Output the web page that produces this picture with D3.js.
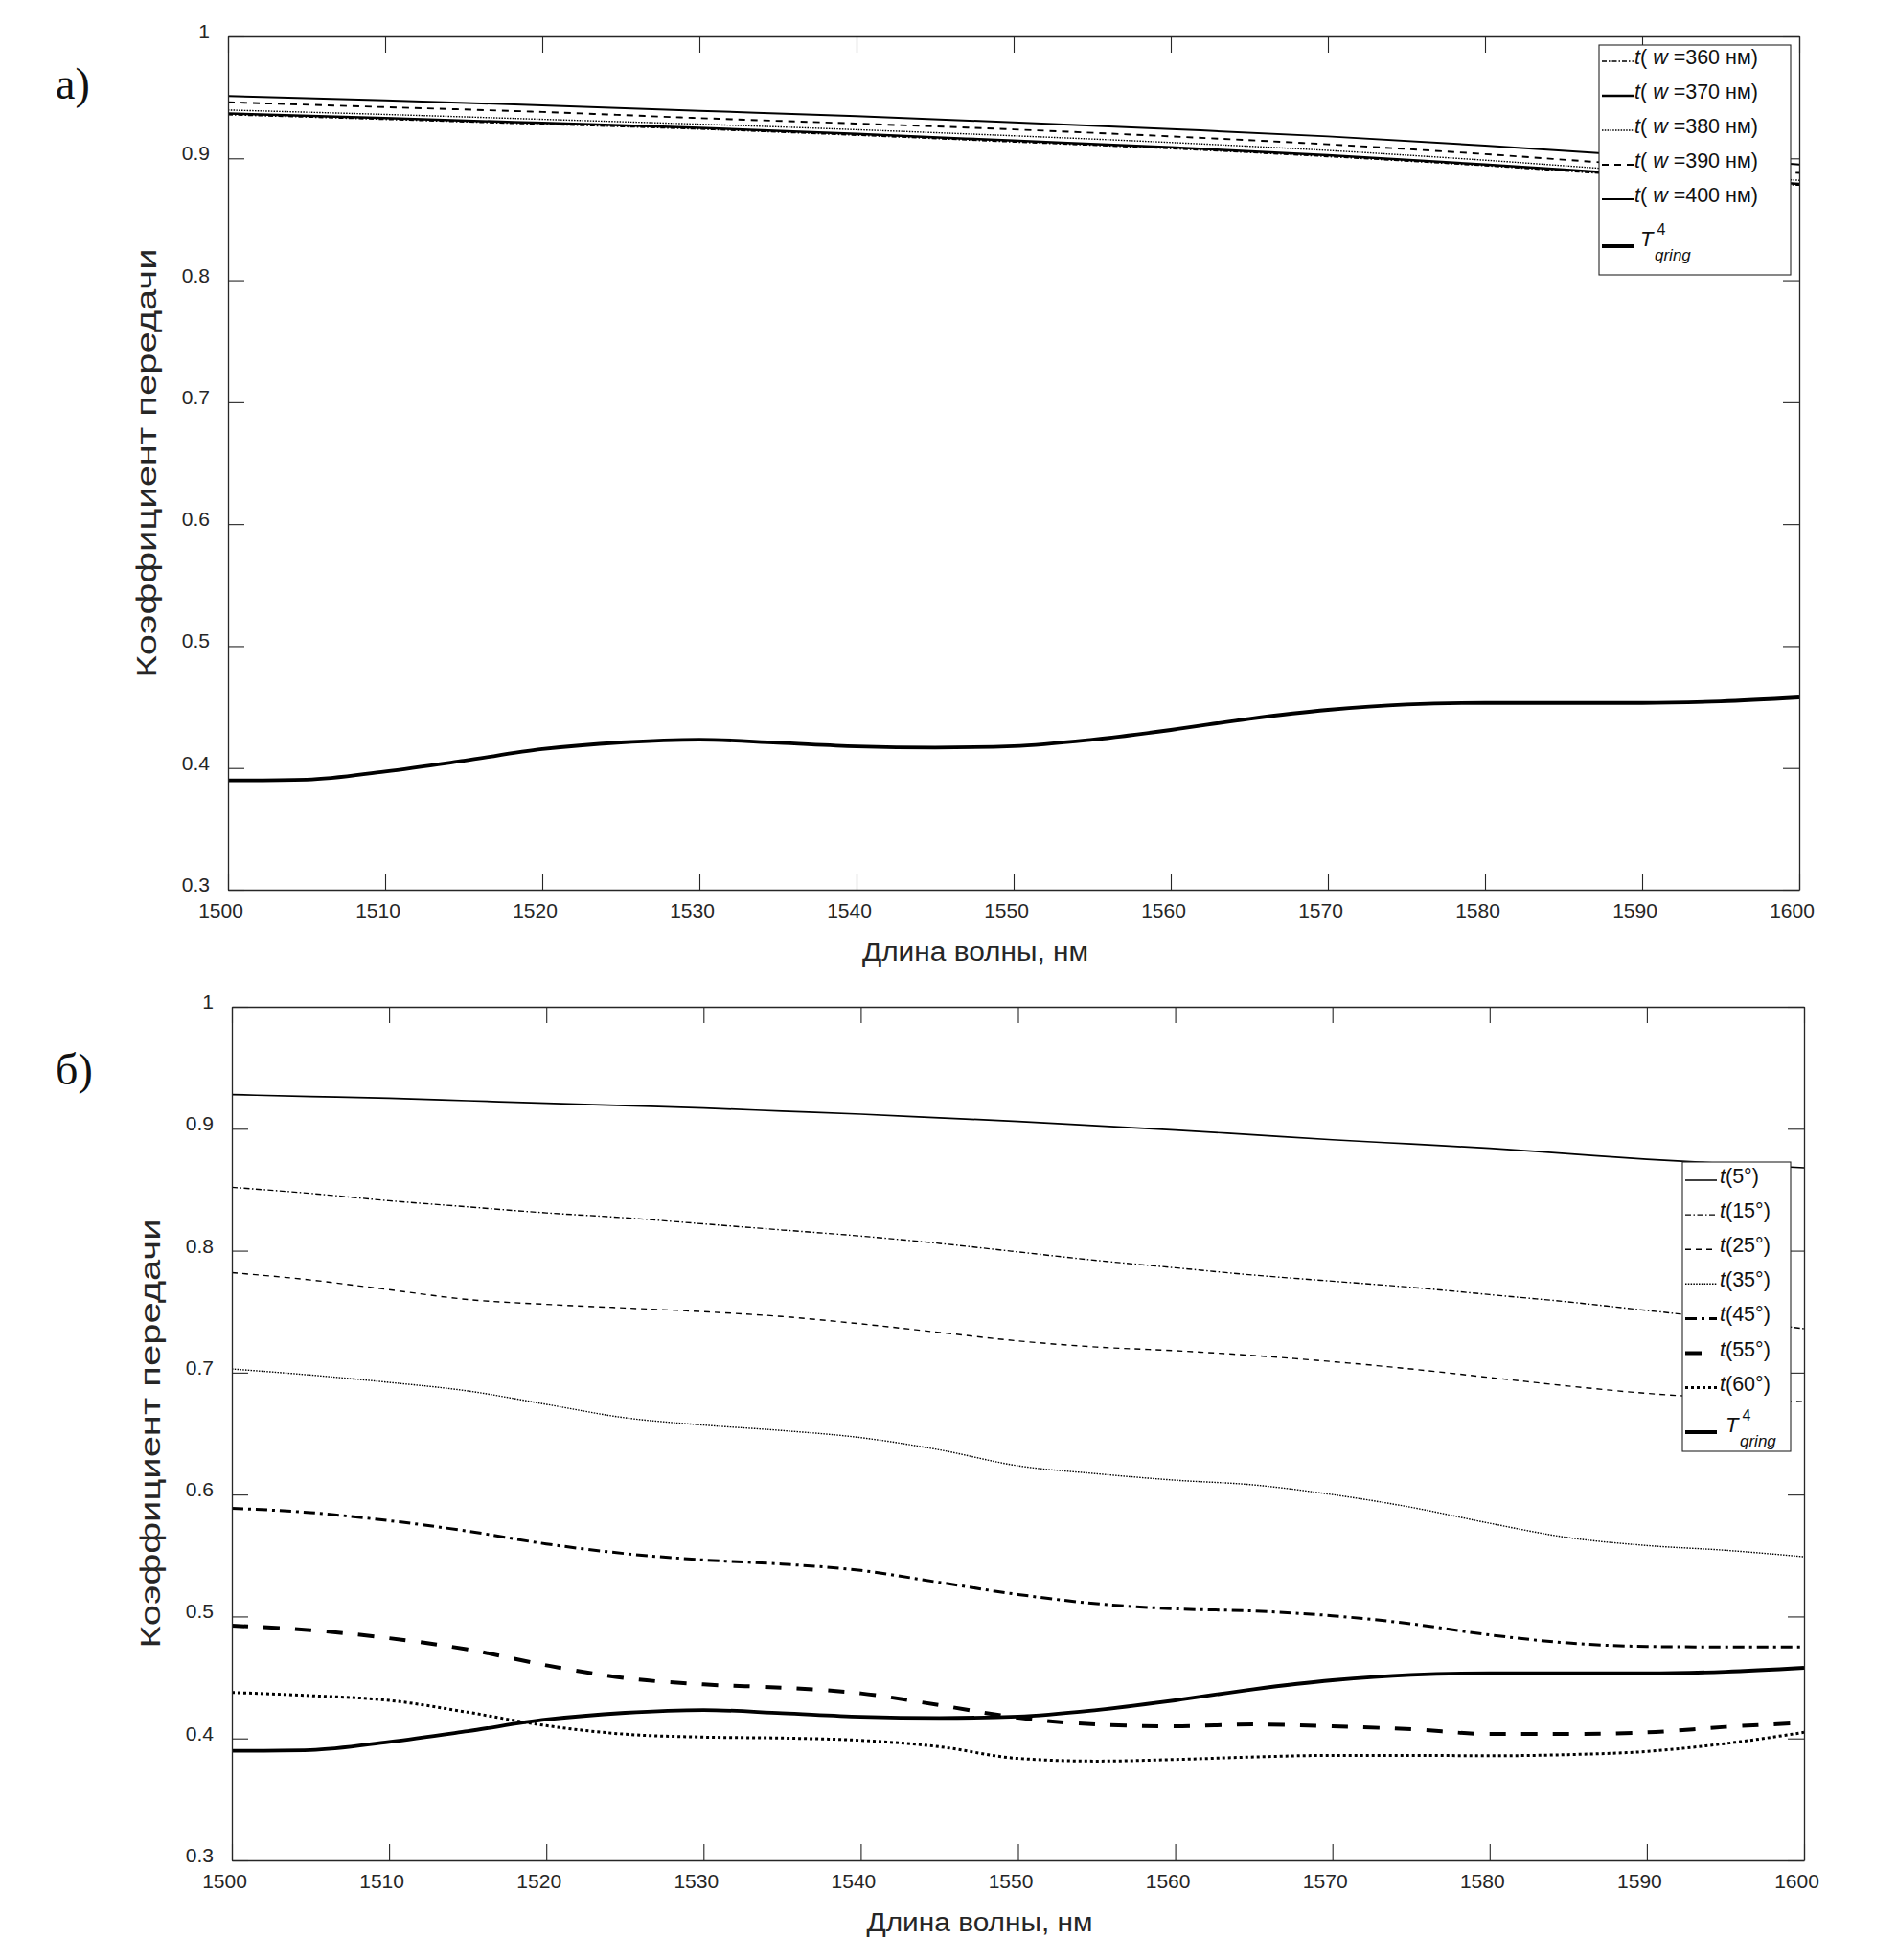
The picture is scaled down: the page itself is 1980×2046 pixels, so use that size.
<!DOCTYPE html>
<html>
<head>
<meta charset="utf-8">
<script src="https://cdn.jsdelivr.net/npm/d3@7"></script>
<style>
  body { margin: 0; background: #fff; }
  text { font-family: Arial, "Liberation Sans", sans-serif; }
</style>
</head>
<body>
<svg id="chart" width="1980" height="2046"></svg>
<script>
// ---- data ----
var wavelengths5 = [1500, 1505, 1510, 1515, 1520, 1525, 1530, 1535, 1540, 1545, 1550,
                    1555, 1560, 1565, 1570, 1575, 1580, 1585, 1590, 1595, 1600];
var wavelengths10 = [1500, 1510, 1520, 1530, 1540, 1550, 1560, 1570, 1580, 1590, 1600];

var xTicks = [1500, 1510, 1520, 1530, 1540, 1550, 1560, 1570, 1580, 1590, 1600];
var yTicks = [0.3, 0.4, 0.5, 0.6, 0.7, 0.8, 0.9, 1];

// T^4 qring (both panels), 5 nm step
var tQring = [0.3898, 0.3905, 0.3972, 0.406, 0.4155, 0.421, 0.4233, 0.4207, 0.4178, 0.4168, 0.418,
              0.4233, 0.4312, 0.4404, 0.4477, 0.4521, 0.4534, 0.4534, 0.4534, 0.4547, 0.4579];

// panel a), 10 nm step
var tW360 = [0.9358, 0.932, 0.928, 0.924, 0.919, 0.9135, 0.908, 0.9015, 0.894, 0.8855, 0.878];
var tW370 = [0.9368, 0.933, 0.929, 0.925, 0.920, 0.9145, 0.909, 0.9025, 0.895, 0.8865, 0.879];
var tW380 = [0.9396, 0.936, 0.932, 0.928, 0.9235, 0.9185, 0.913, 0.9065, 0.8985, 0.8895, 0.882];
var tW390 = [0.946, 0.942, 0.938, 0.933, 0.9285, 0.9237, 0.918, 0.9115, 0.9035, 0.8945, 0.888];
var tW400 = [0.951, 0.9475, 0.9435, 0.939, 0.9345, 0.9295, 0.924, 0.918, 0.9105, 0.902, 0.895];

// panel б), 5 nm step
var tA5  = [0.928, 0.9265, 0.925, 0.923, 0.921, 0.919, 0.917, 0.9145, 0.912, 0.909, 0.906,
            0.9025, 0.899, 0.895, 0.891, 0.8875, 0.884, 0.8795, 0.875, 0.8715, 0.868];
var tA15 = [0.852, 0.847, 0.841, 0.836, 0.831, 0.827, 0.822, 0.817, 0.812, 0.806, 0.799,
            0.792, 0.786, 0.780, 0.775, 0.770, 0.764, 0.758, 0.751, 0.744, 0.736];
var tA25 = [0.782, 0.776, 0.768, 0.760, 0.756, 0.753, 0.750, 0.746, 0.740, 0.733, 0.726,
            0.721, 0.718, 0.714, 0.709, 0.703, 0.696, 0.689, 0.683, 0.679, 0.676];
var tA35 = [0.703, 0.698, 0.692, 0.685, 0.674, 0.663, 0.657, 0.6525, 0.6467, 0.6367, 0.6236,
            0.6171, 0.6118, 0.6079, 0.600, 0.5896, 0.5765, 0.5647, 0.5582, 0.5543, 0.549];
var tA45 = [0.5888, 0.5852, 0.5786, 0.570, 0.5595, 0.5516, 0.5464, 0.543, 0.5378, 0.528, 0.5181,
            0.5105, 0.5063, 0.5045, 0.5006, 0.494, 0.4849, 0.4783, 0.4754, 0.475, 0.475];
var tA55 = [0.4925, 0.4888, 0.4822, 0.473, 0.46, 0.4495, 0.4443, 0.4416, 0.437, 0.4273, 0.417,
            0.4115, 0.41, 0.4115, 0.41, 0.4076, 0.4037, 0.4037, 0.405, 0.4095, 0.4128];
var tA60 = [0.4377, 0.4351, 0.4312, 0.4215, 0.4105, 0.4035, 0.4011, 0.4003, 0.3984, 0.3932, 0.3836,
            0.3814, 0.3827, 0.3848, 0.3861, 0.3861, 0.3858, 0.3867, 0.3893, 0.3958, 0.405];

var labelsW = ['360', '370', '380', '390', '400'];
var labelsAngle = ['5', '15', '25', '35', '45', '55', '60'];
var panelLabels = ['а)', 'б)'];
var xTitle = 'Длина волны, нм';
var yTitle = 'Коэффициент передачи';

// ---- drawing ----
var svg = d3.select('#chart');
svg.append('rect').attr('width', 1980).attr('height', 2046).attr('fill', '#fff');

var axisColor = '#262626';

function drawPanel(p, idx) {
    var x = d3.scaleLinear().domain([1500, 1600]).range([p.left, p.right]);
    var y = d3.scaleLinear().domain([0.3, 1]).range([p.bottom, p.top]);
    var g = svg.append('g');

    var clipId = 'clip' + idx;
    g.append('clipPath').attr('id', clipId).append('rect')
        .attr('x', p.left).attr('y', p.top)
        .attr('width', p.right - p.left).attr('height', p.bottom - p.top);

    var lines = g.append('g').attr('clip-path', 'url(#' + clipId + ')');
    p.series.forEach(function (s) {
        var line = d3.line()
            .x(function (d, i) { return x(s.wl[i]); })
            .y(function (d) { return y(d); })
            .curve(d3.curveMonotoneX);
        lines.append('path').datum(s.values)
            .attr('d', line)
            .attr('fill', 'none')
            .attr('stroke', '#000')
            .attr('stroke-width', s.width)
            .attr('stroke-dasharray', s.dash || null);
    });

    var styleAxis = function (sel) {
        sel.attr('font-family', null).attr('font-size', null);
        sel.select('.domain').attr('stroke', axisColor).attr('stroke-width', 1.3);
        sel.selectAll('.tick line').attr('stroke', axisColor).attr('stroke-width', 1.1);
        sel.selectAll('.tick text').attr('fill', axisColor).style('font-size', '21px');
    };

    g.append('g').attr('transform', 'translate(0,' + p.bottom + ')')
        .call(d3.axisBottom(x).tickValues(xTicks).tickSizeInner(-17).tickSizeOuter(0).tickPadding(14)
            .tickFormat(d3.format('d')))
        .call(styleAxis)
        .selectAll('.tick text').attr('dx', -8);
    g.append('g').attr('transform', 'translate(0,' + p.top + ')')
        .call(d3.axisTop(x).tickValues(xTicks).tickSizeInner(-17).tickSizeOuter(0).tickFormat(''))
        .call(styleAxis);
    g.append('g').attr('transform', 'translate(' + p.left + ',0)')
        .call(d3.axisLeft(y).tickValues(yTicks).tickSizeInner(-17).tickSizeOuter(0).tickPadding(19)
            .tickFormat(d3.format('~g')))
        .call(styleAxis)
        .selectAll('.tick text').attr('dy', '0.07em');
    g.append('g').attr('transform', 'translate(' + p.right + ',0)')
        .call(d3.axisRight(y).tickValues(yTicks).tickSizeInner(-17).tickSizeOuter(0).tickFormat(''))
        .call(styleAxis);

    // titles
    var cx = (p.left + p.right) / 2 - 40;
    g.append('text').attr('x', cx).attr('y', p.bottom + 74)
        .attr('text-anchor', 'middle').attr('fill', axisColor)
        .style('font-size', '27px')
        .attr('textLength', 236).attr('lengthAdjust', 'spacingAndGlyphs')
        .text(xTitle);
    var cy = (p.top + p.bottom) / 2;
    g.append('text')
        .attr('transform', 'translate(' + (p.left - 75) + ',' + cy + ') rotate(-90)')
        .attr('text-anchor', 'middle').attr('fill', axisColor)
        .style('font-size', '29px')
        .attr('textLength', 448).attr('lengthAdjust', 'spacingAndGlyphs')
        .text(yTitle);

    g.append('text').attr('x', 58).attr('y', p.labelY)
        .style('font-family', '"Liberation Serif", "DejaVu Serif", serif')
        .style('font-size', '46px').attr('fill', '#111')
        .text(panelLabels[idx]);

    // legend
    var L = p.legend;
    var lg = g.append('g');
    lg.append('rect').attr('x', L.x).attr('y', L.y).attr('width', L.w).attr('height', L.h)
        .attr('fill', '#fff').attr('stroke', axisColor).attr('stroke-width', 1.1);
    p.series.forEach(function (s, i) {
        var base = L.firstBase + i * L.step;
        var isQ = s.kind === 'q';
        if (isQ) base = L.qBase;
        lg.append('line')
            .attr('x1', L.lineX0).attr('x2', L.lineX1)
            .attr('y1', base - (isQ ? 0 : 3)).attr('y2', base - (isQ ? 0 : 3))
            .attr('stroke', '#000').attr('stroke-width', s.width)
            .attr('stroke-dasharray', s.dash || null);
        var t = lg.append('text').attr('x', L.textX + (isQ ? 6 : 0)).attr('y', base)
            .attr('fill', '#111').style('font-size', isQ ? '22px' : '21.5px');
        if (isQ) {
            t.append('tspan').style('font-style', 'italic').text('T');
            t.append('tspan').attr('dx', 4).attr('dy', -12).style('font-size', '16px').text('4');
            lg.append('text').attr('x', L.textX + 21).attr('y', base + 15)
                .attr('fill', '#111').style('font-size', '17px').style('font-style', 'italic')
                .text('qring');
        } else if (s.kind === 'w') {
            t.append('tspan').style('font-style', 'italic').text('t');
            t.append('tspan').text('( ');
            t.append('tspan').style('font-style', 'italic').text('w');
            t.append('tspan').text(' =' + s.label + ' нм)');
        } else {
            t.append('tspan').style('font-style', 'italic').text('t');
            t.append('tspan').text('(' + s.label + '°)');
        }
    });
}

var panels = [
    {
        left: 238, right: 1878, top: 38, bottom: 929, labelY: 103,
        series: [
            { kind: 'w', label: labelsW[0], wl: wavelengths10, values: tW360, width: 1.6, dash: '5,2,1.5,2' },
            { kind: 'w', label: labelsW[1], wl: wavelengths10, values: tW370, width: 2.5 },
            { kind: 'w', label: labelsW[2], wl: wavelengths10, values: tW380, width: 1.4, dash: '1.5,1.3' },
            { kind: 'w', label: labelsW[3], wl: wavelengths10, values: tW390, width: 1.9, dash: '7,6' },
            { kind: 'w', label: labelsW[4], wl: wavelengths10, values: tW400, width: 2 },
            { kind: 'q', wl: wavelengths5, values: tQring, width: 3.8 }
        ],
        legend: { x: 1669, y: 47, w: 200, h: 240, lineX0: 1672, lineX1: 1705, textX: 1706,
                  firstBase: 67, step: 36, qBase: 257 }
    },
    {
        left: 242, right: 1883, top: 1051, bottom: 1942, labelY: 1132,
        series: [
            { kind: 'a', label: labelsAngle[0], wl: wavelengths5, values: tA5, width: 1.7 },
            { kind: 'a', label: labelsAngle[1], wl: wavelengths5, values: tA15, width: 1.4, dash: '6,2.5,1.5,2.5' },
            { kind: 'a', label: labelsAngle[2], wl: wavelengths5, values: tA25, width: 1.4, dash: '6,5' },
            { kind: 'a', label: labelsAngle[3], wl: wavelengths5, values: tA35, width: 1.4, dash: '1.5,1.3' },
            { kind: 'a', label: labelsAngle[4], wl: wavelengths5, values: tA45, width: 3, dash: '12,5,3,5' },
            { kind: 'a', label: labelsAngle[5], wl: wavelengths5, values: tA55, width: 4, dash: '17,16' },
            { kind: 'a', label: labelsAngle[6], wl: wavelengths5, values: tA60, width: 3, dash: '3,3' },
            { kind: 'q', wl: wavelengths5, values: tQring, width: 3.8 }
        ],
        legend: { x: 1756, y: 1213, w: 113, h: 302, lineX0: 1759, lineX1: 1792, textX: 1795,
                  firstBase: 1235, step: 36.1, qBase: 1495 }
    }
];

panels.forEach(drawPanel);
</script>
</body>
</html>
